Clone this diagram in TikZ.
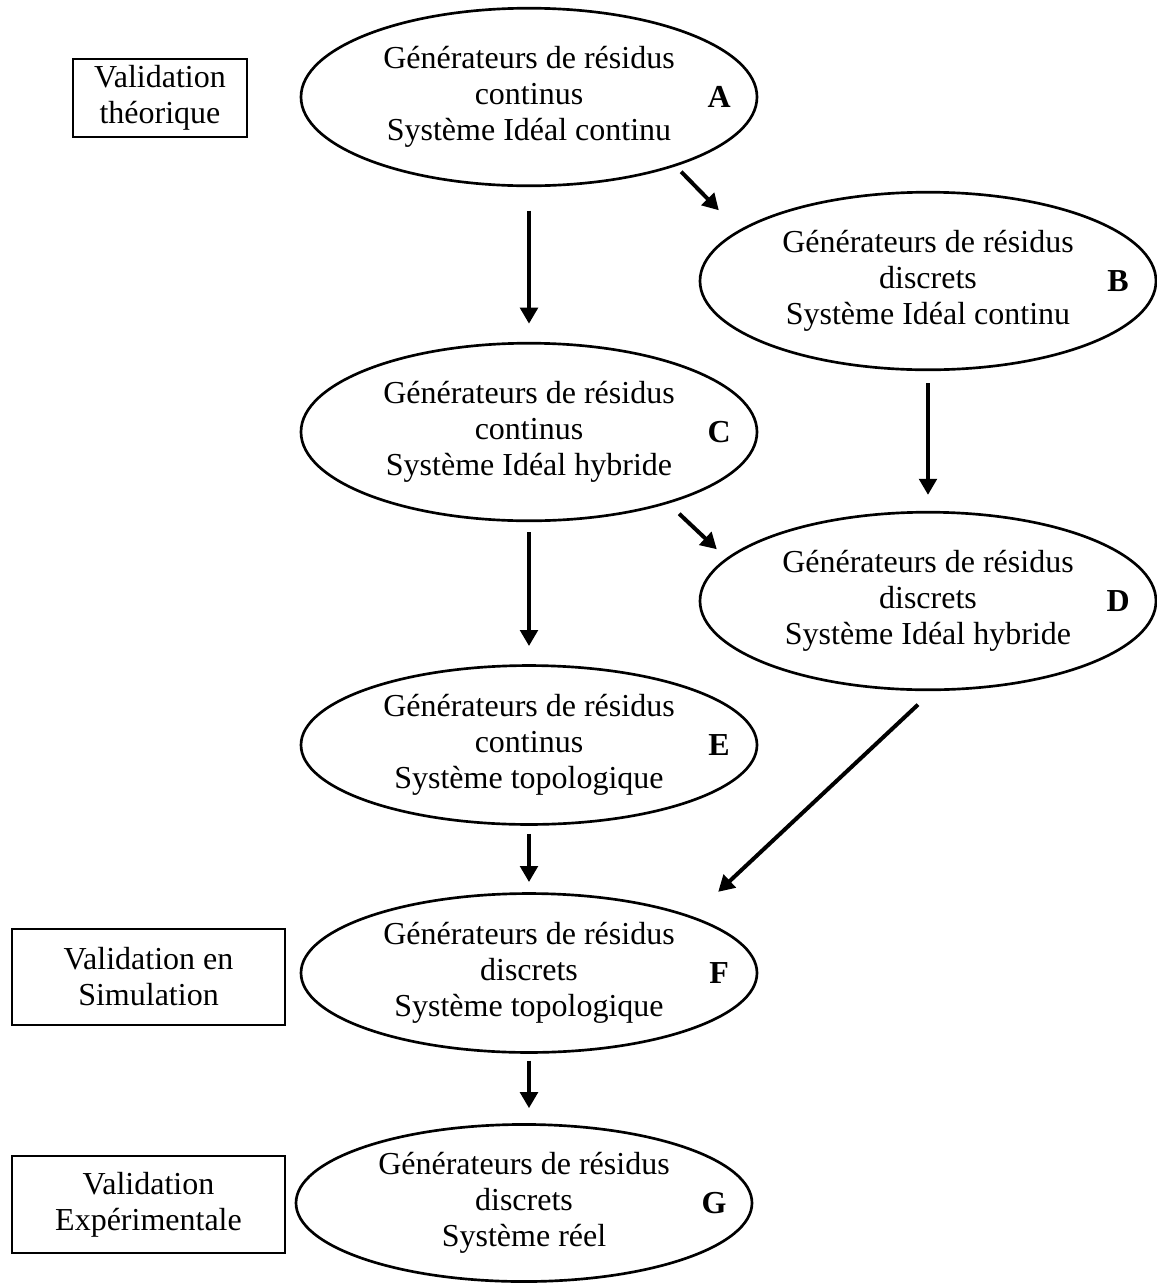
\documentclass[tikz,border=0pt]{standalone}
\usepackage{fontspec}
\setmainfont{Liberation Serif}
\usetikzlibrary{arrows.meta,positioning,shapes.geometric,calc}

\begin{document}
\begin{tikzpicture}[x=0.375pt,y=-0.375pt,
  gen/.style={draw, line width=1pt, ellipse, inner sep=0pt,
    minimum width=171pt, minimum height=66.6pt, align=center,
    font=\fontsize{12}{13.5}\selectfont},
  genflat/.style={gen, minimum height=59.6pt},
  tag/.style={font=\fontsize{12}{13.5}\selectfont\bfseries},
  valbox/.style={draw, line width=0.8pt, inner sep=0pt, align=center,
    font=\fontsize{12}{13.5}\selectfont},
  flow/.style={line width=1.5pt, -{Triangle[length=6pt,width=6.5pt]}}]
\useasboundingbox (0,0) rectangle (1157,1283);
% Validation levels
\node[valbox, minimum width=65.3pt, minimum height=29.3pt] (vtheo) at (160,98)
  {Validation\\théorique};
\node[valbox, minimum width=102.4pt, minimum height=36pt] (vsim) at (148.5,977)
  {Validation en\\Simulation};
\node[valbox, minimum width=102.4pt, minimum height=36.4pt] (vexp) at (148.5,1204.5)
  {Validation\\Expérimentale};
% Residual generators
\node[gen] (A) at (529,97)
  {Générateurs de résidus\\continus\\Système Idéal continu};
\node[gen] (B) at (928,281)
  {Générateurs de résidus\\discrets\\Système Idéal continu};
\node[gen] (C) at (529,432)
  {Générateurs de résidus\\continus\\Système Idéal hybride};
\node[gen] (D) at (928,601)
  {Générateurs de résidus\\discrets\\Système Idéal hybride};
\node[genflat] (E) at (529,745)
  {Générateurs de résidus\\continus\\Système topologique};
\node[genflat] (F) at (529,973)
  {Générateurs de résidus\\discrets\\Système topologique};
\node[genflat, minimum height=58.9pt] (G) at (524,1203)
  {Générateurs de résidus\\discrets\\Système réel};
% Letters
\foreach \n in {A,B,C,D,E,F,G}
  \node[tag] (l\n) at ([xshift=-14.7pt]\n.east) {\n};
% Vertical steps
\foreach \from/\to/\sa/\sb in {A/C/8.8pt/6.8pt, C/E/3.8pt/6.8pt,
    E/F/3pt/3.8pt, B/D/4.5pt/6pt}
  \draw[flow, shorten <=\sa, shorten >=\sb] (\from.south) -- (\to.north);
\draw[flow, shorten <=2.6pt, shorten >=5.6pt] (F.south) -- (F.south |- G.north);
% Diagonal steps
\draw[flow] ($(A.south east)+(-10,11)$) -- ($(B.north west)+(-47,-7)$);
\draw[flow] ($(C.south east)+(-12,18)$) -- ($(D.north west)+(-49,12)$);
\draw[flow] ($(D.south)+(-10,13.5)$) -- ($(F.north east)+(27,-24)$);
\end{tikzpicture}
\end{document}
